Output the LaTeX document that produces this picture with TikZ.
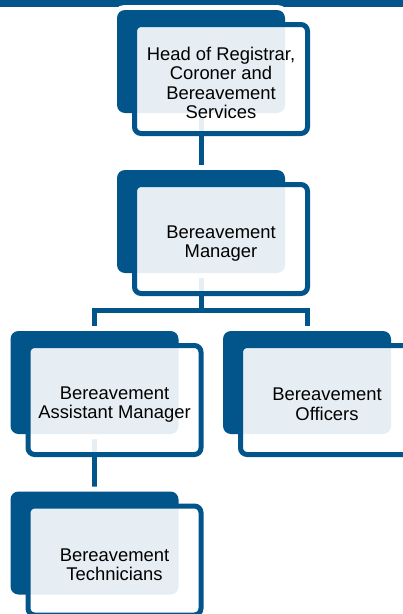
\documentclass[tikz,border=0pt]{standalone}
\usepackage{fontspec}
\setmainfont{Liberation Sans}
\usetikzlibrary{backgrounds}
\definecolor{regblue}{RGB}{2,85,139}

\begin{document}
\begin{tikzpicture}[x=0.75pt,y=-0.75pt,
    back/.style={fill=regblue,rounded corners=6pt,inner sep=0pt,
      minimum width=126pt,minimum height=77.25pt,
      preaction={draw=white,line width=7.5pt}},
    frame/.style={draw=regblue,line width=3.75pt,fill=white,fill opacity=0.9,
      text opacity=1,rounded corners=5pt,minimum width=129.75pt,
      minimum height=81.75pt,align=center,xshift=15pt,yshift=-13.125pt,
      font=\fontsize{13.8}{14.6}\selectfont},
    link/.style={draw=regblue,line width=3.75pt}]
  \useasboundingbox (0,0) rectangle (403,614);
  \clip (0,0) rectangle (403,614);
  \fill[regblue] (0,0) rectangle (403,7);
  % back plates
  \node[back] (b1) at (201,61.5) {};
  \node[back] (b2) at (201,221.5) {};
  \node[back] (b3) at (94.5,382.5) {};
  \node[back] (b4) at (307,382.5) {};
  \node[back] (b5) at (94.5,543) {};
  % framed labels
  \node[frame] (f1) at (b1) {\rule{0pt}{16pt}Head of Registrar,\\Coroner and\\Bereavement\\Services};
  \node[frame] (f2) at (b2) {\rule{0pt}{16pt}Bereavement\\Manager};
  \node[frame] (f3) at (b3) {\rule{0pt}{16pt}Bereavement\\Assistant Manager};
  \node[frame] (f4) at (b4) {\rule{0pt}{16pt}Bereavement\\Officers};
  \node[frame] (f5) at (b5) {\rule{0pt}{16pt}Bereavement\\Technicians};
  \begin{scope}[on background layer]
    \draw[link] (b1.south) -- (b2.north);
    \draw[link] (b2.south) -- ++(0,37) coordinate (split) -| (b3.north);
    \draw[link] (split) -| (b4.north);
    \draw[link] (b3.south) -- (b5.north);
  \end{scope}
\end{tikzpicture}
\end{document}
